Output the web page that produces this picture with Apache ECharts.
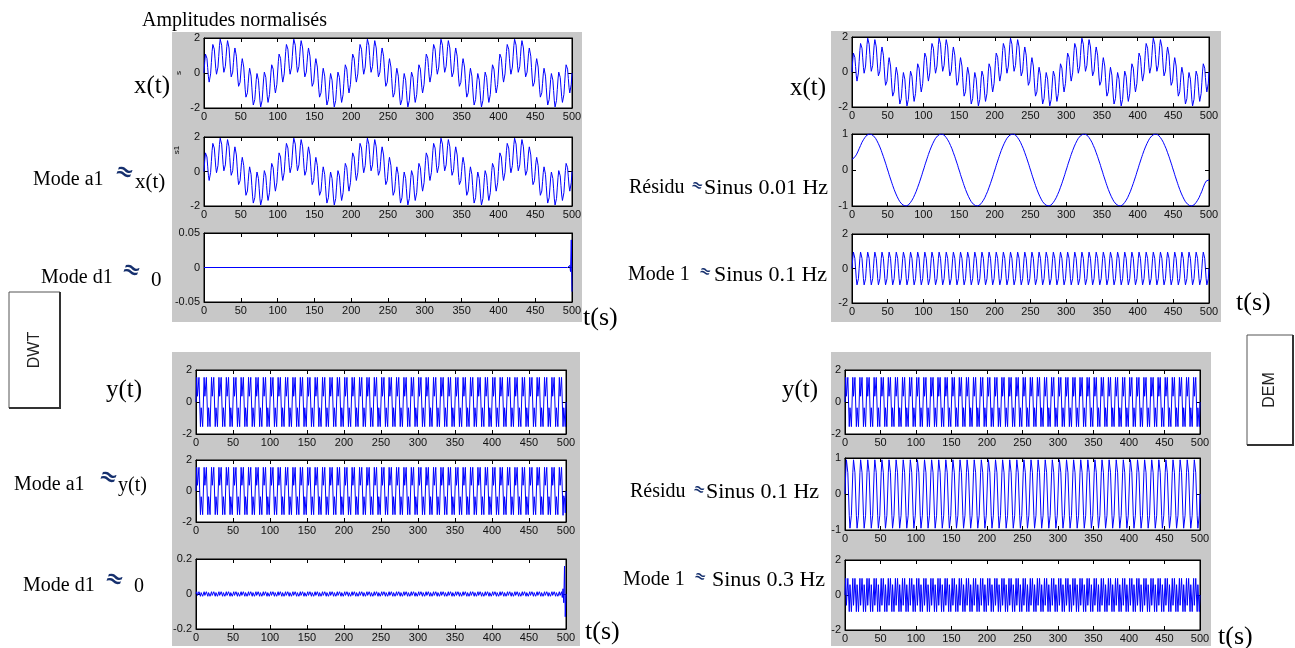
<!DOCTYPE html>
<html>
<head>
<meta charset="utf-8">
<script src="https://cdn.jsdelivr.net/npm/echarts@6/dist/echarts.min.js"></script>
<style>
  html, body { margin: 0; padding: 0; background: #fff; }
  #chart { width: 1295px; height: 648px; }
</style>
</head>
<body>
<div id="chart"></div>
<script>
// ---- data -------------------------------------------------------------
// Sample instants, one per second over 0..500 s
const timeStart = 0;
const timeEnd = 500;
const timeTicks = ['0', '50', '100', '150', '200', '250', '300', '350', '400', '450', '500'];

// Slow sine component, 0.01 Hz (one sample per second)
const sinus001Hz = [
  0,.06,.13,.19,.25,.31,.37,.43,.48,.54,.59,.64,.68,.73,.77,.81,.84,.88,.9,.93,.95,.97,.98,.99,1,1,1,.99,.98,.97,.95,.93,.9,.88,.84,.81,.77,.73,.68,.64,.59,.54,.48,.43,.37,.31,.25,.19,.13,.06,0,-.06,-.13,-.19,-.25,-.31,-.37,-.43,-.48,-.54,-.59,-.64,-.68,-.73,-.77,-.81,-.84,-.88,-.9,-.93,-.95,-.97,-.98,-.99,-1,-1,-1,-.99,-.98,-.97,-.95,-.93,-.9,-.88,-.84,-.81,-.77,-.73,-.68,-.64,-.59,-.54,-.48,-.43,-.37,-.31,-.25,-.19,-.13,-.06,
  0,.06,.13,.19,.25,.31,.37,.43,.48,.54,.59,.64,.68,.73,.77,.81,.84,.88,.9,.93,.95,.97,.98,.99,1,1,1,.99,.98,.97,.95,.93,.9,.88,.84,.81,.77,.73,.68,.64,.59,.54,.48,.43,.37,.31,.25,.19,.13,.06,0,-.06,-.13,-.19,-.25,-.31,-.37,-.43,-.48,-.54,-.59,-.64,-.68,-.73,-.77,-.81,-.84,-.88,-.9,-.93,-.95,-.97,-.98,-.99,-1,-1,-1,-.99,-.98,-.97,-.95,-.93,-.9,-.88,-.84,-.81,-.77,-.73,-.68,-.64,-.59,-.54,-.48,-.43,-.37,-.31,-.25,-.19,-.13,-.06,
  0,.06,.13,.19,.25,.31,.37,.43,.48,.54,.59,.64,.68,.73,.77,.81,.84,.88,.9,.93,.95,.97,.98,.99,1,1,1,.99,.98,.97,.95,.93,.9,.88,.84,.81,.77,.73,.68,.64,.59,.54,.48,.43,.37,.31,.25,.19,.13,.06,0,-.06,-.13,-.19,-.25,-.31,-.37,-.43,-.48,-.54,-.59,-.64,-.68,-.73,-.77,-.81,-.84,-.88,-.9,-.93,-.95,-.97,-.98,-.99,-1,-1,-1,-.99,-.98,-.97,-.95,-.93,-.9,-.88,-.84,-.81,-.77,-.73,-.68,-.64,-.59,-.54,-.48,-.43,-.37,-.31,-.25,-.19,-.13,-.06,
  0,.06,.13,.19,.25,.31,.37,.43,.48,.54,.59,.64,.68,.73,.77,.81,.84,.88,.9,.93,.95,.97,.98,.99,1,1,1,.99,.98,.97,.95,.93,.9,.88,.84,.81,.77,.73,.68,.64,.59,.54,.48,.43,.37,.31,.25,.19,.13,.06,0,-.06,-.13,-.19,-.25,-.31,-.37,-.43,-.48,-.54,-.59,-.64,-.68,-.73,-.77,-.81,-.84,-.88,-.9,-.93,-.95,-.97,-.98,-.99,-1,-1,-1,-.99,-.98,-.97,-.95,-.93,-.9,-.88,-.84,-.81,-.77,-.73,-.68,-.64,-.59,-.54,-.48,-.43,-.37,-.31,-.25,-.19,-.13,-.06,
  0,.06,.13,.19,.25,.31,.37,.43,.48,.54,.59,.64,.68,.73,.77,.81,.84,.88,.9,.93,.95,.97,.98,.99,1,1,1,.99,.98,.97,.95,.93,.9,.88,.84,.81,.77,.73,.68,.64,.59,.54,.48,.43,.37,.31,.25,.19,.13,.06,0,-.06,-.13,-.19,-.25,-.31,-.37,-.43,-.48,-.54,-.59,-.64,-.68,-.73,-.77,-.81,-.84,-.88,-.9,-.93,-.95,-.97,-.98,-.99,-1,-1,-1,-.99,-.98,-.97,-.95,-.93,-.9,-.88,-.84,-.81,-.77,-.73,-.68,-.64,-.59,-.54,-.48,-.43,-.37,-.31,-.25,-.19,-.13,-.06,
  0
];

// 0.1 Hz sine component
const sinus01Hz = [
  0,.59,.95,.95,.59,0,-.59,-.95,-.95,-.59, 0,.59,.95,.95,.59,0,-.59,-.95,-.95,-.59, 0,.59,.95,.95,.59,0,-.59,-.95,-.95,-.59, 0,.59,.95,.95,.59,0,-.59,-.95,-.95,-.59, 0,.59,.95,.95,.59,0,-.59,-.95,-.95,-.59, 0,.59,.95,.95,.59,0,-.59,-.95,-.95,-.59, 0,.59,.95,.95,.59,0,-.59,-.95,-.95,-.59, 0,.59,.95,.95,.59,0,-.59,-.95,-.95,-.59, 0,.59,.95,.95,.59,0,-.59,-.95,-.95,-.59, 0,.59,.95,.95,.59,0,-.59,-.95,-.95,-.59,
  0,.59,.95,.95,.59,0,-.59,-.95,-.95,-.59, 0,.59,.95,.95,.59,0,-.59,-.95,-.95,-.59, 0,.59,.95,.95,.59,0,-.59,-.95,-.95,-.59, 0,.59,.95,.95,.59,0,-.59,-.95,-.95,-.59, 0,.59,.95,.95,.59,0,-.59,-.95,-.95,-.59, 0,.59,.95,.95,.59,0,-.59,-.95,-.95,-.59, 0,.59,.95,.95,.59,0,-.59,-.95,-.95,-.59, 0,.59,.95,.95,.59,0,-.59,-.95,-.95,-.59, 0,.59,.95,.95,.59,0,-.59,-.95,-.95,-.59, 0,.59,.95,.95,.59,0,-.59,-.95,-.95,-.59,
  0,.59,.95,.95,.59,0,-.59,-.95,-.95,-.59, 0,.59,.95,.95,.59,0,-.59,-.95,-.95,-.59, 0,.59,.95,.95,.59,0,-.59,-.95,-.95,-.59, 0,.59,.95,.95,.59,0,-.59,-.95,-.95,-.59, 0,.59,.95,.95,.59,0,-.59,-.95,-.95,-.59, 0,.59,.95,.95,.59,0,-.59,-.95,-.95,-.59, 0,.59,.95,.95,.59,0,-.59,-.95,-.95,-.59, 0,.59,.95,.95,.59,0,-.59,-.95,-.95,-.59, 0,.59,.95,.95,.59,0,-.59,-.95,-.95,-.59, 0,.59,.95,.95,.59,0,-.59,-.95,-.95,-.59,
  0,.59,.95,.95,.59,0,-.59,-.95,-.95,-.59, 0,.59,.95,.95,.59,0,-.59,-.95,-.95,-.59, 0,.59,.95,.95,.59,0,-.59,-.95,-.95,-.59, 0,.59,.95,.95,.59,0,-.59,-.95,-.95,-.59, 0,.59,.95,.95,.59,0,-.59,-.95,-.95,-.59, 0,.59,.95,.95,.59,0,-.59,-.95,-.95,-.59, 0,.59,.95,.95,.59,0,-.59,-.95,-.95,-.59, 0,.59,.95,.95,.59,0,-.59,-.95,-.95,-.59, 0,.59,.95,.95,.59,0,-.59,-.95,-.95,-.59, 0,.59,.95,.95,.59,0,-.59,-.95,-.95,-.59,
  0,.59,.95,.95,.59,0,-.59,-.95,-.95,-.59, 0,.59,.95,.95,.59,0,-.59,-.95,-.95,-.59, 0,.59,.95,.95,.59,0,-.59,-.95,-.95,-.59, 0,.59,.95,.95,.59,0,-.59,-.95,-.95,-.59, 0,.59,.95,.95,.59,0,-.59,-.95,-.95,-.59, 0,.59,.95,.95,.59,0,-.59,-.95,-.95,-.59, 0,.59,.95,.95,.59,0,-.59,-.95,-.95,-.59, 0,.59,.95,.95,.59,0,-.59,-.95,-.95,-.59, 0,.59,.95,.95,.59,0,-.59,-.95,-.95,-.59, 0,.59,.95,.95,.59,0,-.59,-.95,-.95,-.59,
  0
];

// 0.3 Hz sine component
const sinus03Hz = [
  0,.95,-.59,-.59,.95,0,-.95,.59,.59,-.95, 0,.95,-.59,-.59,.95,0,-.95,.59,.59,-.95, 0,.95,-.59,-.59,.95,0,-.95,.59,.59,-.95, 0,.95,-.59,-.59,.95,0,-.95,.59,.59,-.95, 0,.95,-.59,-.59,.95,0,-.95,.59,.59,-.95, 0,.95,-.59,-.59,.95,0,-.95,.59,.59,-.95, 0,.95,-.59,-.59,.95,0,-.95,.59,.59,-.95, 0,.95,-.59,-.59,.95,0,-.95,.59,.59,-.95, 0,.95,-.59,-.59,.95,0,-.95,.59,.59,-.95, 0,.95,-.59,-.59,.95,0,-.95,.59,.59,-.95,
  0,.95,-.59,-.59,.95,0,-.95,.59,.59,-.95, 0,.95,-.59,-.59,.95,0,-.95,.59,.59,-.95, 0,.95,-.59,-.59,.95,0,-.95,.59,.59,-.95, 0,.95,-.59,-.59,.95,0,-.95,.59,.59,-.95, 0,.95,-.59,-.59,.95,0,-.95,.59,.59,-.95, 0,.95,-.59,-.59,.95,0,-.95,.59,.59,-.95, 0,.95,-.59,-.59,.95,0,-.95,.59,.59,-.95, 0,.95,-.59,-.59,.95,0,-.95,.59,.59,-.95, 0,.95,-.59,-.59,.95,0,-.95,.59,.59,-.95, 0,.95,-.59,-.59,.95,0,-.95,.59,.59,-.95,
  0,.95,-.59,-.59,.95,0,-.95,.59,.59,-.95, 0,.95,-.59,-.59,.95,0,-.95,.59,.59,-.95, 0,.95,-.59,-.59,.95,0,-.95,.59,.59,-.95, 0,.95,-.59,-.59,.95,0,-.95,.59,.59,-.95, 0,.95,-.59,-.59,.95,0,-.95,.59,.59,-.95, 0,.95,-.59,-.59,.95,0,-.95,.59,.59,-.95, 0,.95,-.59,-.59,.95,0,-.95,.59,.59,-.95, 0,.95,-.59,-.59,.95,0,-.95,.59,.59,-.95, 0,.95,-.59,-.59,.95,0,-.95,.59,.59,-.95, 0,.95,-.59,-.59,.95,0,-.95,.59,.59,-.95,
  0,.95,-.59,-.59,.95,0,-.95,.59,.59,-.95, 0,.95,-.59,-.59,.95,0,-.95,.59,.59,-.95, 0,.95,-.59,-.59,.95,0,-.95,.59,.59,-.95, 0,.95,-.59,-.59,.95,0,-.95,.59,.59,-.95, 0,.95,-.59,-.59,.95,0,-.95,.59,.59,-.95, 0,.95,-.59,-.59,.95,0,-.95,.59,.59,-.95, 0,.95,-.59,-.59,.95,0,-.95,.59,.59,-.95, 0,.95,-.59,-.59,.95,0,-.95,.59,.59,-.95, 0,.95,-.59,-.59,.95,0,-.95,.59,.59,-.95, 0,.95,-.59,-.59,.95,0,-.95,.59,.59,-.95,
  0,.95,-.59,-.59,.95,0,-.95,.59,.59,-.95, 0,.95,-.59,-.59,.95,0,-.95,.59,.59,-.95, 0,.95,-.59,-.59,.95,0,-.95,.59,.59,-.95, 0,.95,-.59,-.59,.95,0,-.95,.59,.59,-.95, 0,.95,-.59,-.59,.95,0,-.95,.59,.59,-.95, 0,.95,-.59,-.59,.95,0,-.95,.59,.59,-.95, 0,.95,-.59,-.59,.95,0,-.95,.59,.59,-.95, 0,.95,-.59,-.59,.95,0,-.95,.59,.59,-.95, 0,.95,-.59,-.59,.95,0,-.95,.59,.59,-.95, 0,.95,-.59,-.59,.95,0,-.95,.59,.59,-.95,
  0
];

// Residue of x(t): slow sine with end effects at both borders
const residuHead = [.3,.31,.32,.34,.36,.39,.42,.46,.5,.54];            // t = 0..9
const residuTail = [-.48,-.43,-.38,-.34,-.31,-.29,-.28,-.28,-.29];      // t = 492..500

// DWT detail d1 of x(t): flat, with a border spike at the end  [t, value]
const detailD1x = [[0,0],[494,0],[495,.001],[496,-.002],[497,.003],[498,-.006],[499,.04],[500,-.035]];

// DWT detail d1 of y(t): small ripple, border spike at the end
const detailD1y = [
  0,.013,-.008,-.008,.013,0,-.013,.008,.008,-.013, 0,.013,-.008,-.008,.013,0,-.013,.008,.008,-.013, 0,.013,-.008,-.008,.013,0,-.013,.008,.008,-.013, 0,.013,-.008,-.008,.013,0,-.013,.008,.008,-.013, 0,.013,-.008,-.008,.013,0,-.013,.008,.008,-.013, 0,.013,-.008,-.008,.013,0,-.013,.008,.008,-.013, 0,.013,-.008,-.008,.013,0,-.013,.008,.008,-.013, 0,.013,-.008,-.008,.013,0,-.013,.008,.008,-.013, 0,.013,-.008,-.008,.013,0,-.013,.008,.008,-.013, 0,.013,-.008,-.008,.013,0,-.013,.008,.008,-.013,
  0,.013,-.008,-.008,.013,0,-.013,.008,.008,-.013, 0,.013,-.008,-.008,.013,0,-.013,.008,.008,-.013, 0,.013,-.008,-.008,.013,0,-.013,.008,.008,-.013, 0,.013,-.008,-.008,.013,0,-.013,.008,.008,-.013, 0,.013,-.008,-.008,.013,0,-.013,.008,.008,-.013, 0,.013,-.008,-.008,.013,0,-.013,.008,.008,-.013, 0,.013,-.008,-.008,.013,0,-.013,.008,.008,-.013, 0,.013,-.008,-.008,.013,0,-.013,.008,.008,-.013, 0,.013,-.008,-.008,.013,0,-.013,.008,.008,-.013, 0,.013,-.008,-.008,.013,0,-.013,.008,.008,-.013,
  0,.013,-.008,-.008,.013,0,-.013,.008,.008,-.013, 0,.013,-.008,-.008,.013,0,-.013,.008,.008,-.013, 0,.013,-.008,-.008,.013,0,-.013,.008,.008,-.013, 0,.013,-.008,-.008,.013,0,-.013,.008,.008,-.013, 0,.013,-.008,-.008,.013,0,-.013,.008,.008,-.013, 0,.013,-.008,-.008,.013,0,-.013,.008,.008,-.013, 0,.013,-.008,-.008,.013,0,-.013,.008,.008,-.013, 0,.013,-.008,-.008,.013,0,-.013,.008,.008,-.013, 0,.013,-.008,-.008,.013,0,-.013,.008,.008,-.013, 0,.013,-.008,-.008,.013,0,-.013,.008,.008,-.013,
  0,.013,-.008,-.008,.013,0,-.013,.008,.008,-.013, 0,.013,-.008,-.008,.013,0,-.013,.008,.008,-.013, 0,.013,-.008,-.008,.013,0,-.013,.008,.008,-.013, 0,.013,-.008,-.008,.013,0,-.013,.008,.008,-.013, 0,.013,-.008,-.008,.013,0,-.013,.008,.008,-.013, 0,.013,-.008,-.008,.013,0,-.013,.008,.008,-.013, 0,.013,-.008,-.008,.013,0,-.013,.008,.008,-.013, 0,.013,-.008,-.008,.013,0,-.013,.008,.008,-.013, 0,.013,-.008,-.008,.013,0,-.013,.008,.008,-.013, 0,.013,-.008,-.008,.013,0,-.013,.008,.008,-.013,
  0,.013,-.008,-.008,.013,0,-.013,.008,.008,-.013, 0,.013,-.008,-.008,.013,0,-.013,.008,.008,-.013, 0,.013,-.008,-.008,.013,0,-.013,.008,.008,-.013, 0,.013,-.008,-.008,.013,0,-.013,.008,.008,-.013, 0,.013,-.008,-.008,.013,0,-.013,.008,.008,-.013, 0,.013,-.008,-.008,.013,0,-.013,.008,.008,-.013, 0,.013,-.008,-.008,.013,0,-.013,.008,.008,-.013, 0,.013,-.008,-.008,.013,0,-.013,.008,.008,-.013, 0,.013,-.008,-.008,.013,0,-.013,.008,.008,-.013, 0,.013,-.008,-.008,.013,-.02,.03,-.05,.16,-.13,
  0
];

// ---- derived signals --------------------------------------------------
const nSamples = sinus001Hz.length;
const tSec = Array.from({ length: nSamples }, (_, i) => timeStart + i);

const xSignal = sinus001Hz.map((v, i) => +(v + sinus01Hz[i]).toFixed(3));
const ySignal = sinus01Hz.map((v, i) => +(v + sinus03Hz[i]).toFixed(3));
const approxA1y = ySignal.map((v, i) => +(v - detailD1y[i]).toFixed(3));
const residuSlow = sinus001Hz.map((v, i) => {
  if (i < residuHead.length) return residuHead[i];
  const k = i - (nSamples - residuTail.length);
  return k >= 0 ? residuTail[k] : v;
});

const pairs = arr => arr.map((v, i) => [tSec[i], v]);

// ---- layout: one entry per sub-plot ---------------------------------
const panels = [
  // DWT, x(t)
  { left: 204, top: 38,  width: 368, height: 70, y: [-2, 2, 2],          data: pairs(xSignal) },
  { left: 204, top: 137, width: 368, height: 69, y: [-2, 2, 2],          data: pairs(xSignal) },
  { left: 204, top: 233, width: 368, height: 69, y: [-0.05, 0.05, 0.05], data: detailD1x },
  // DWT, y(t)
  { left: 196, top: 370, width: 370, height: 64, y: [-2, 2, 2],          data: pairs(ySignal) },
  { left: 196, top: 460, width: 370, height: 62, y: [-2, 2, 2],          data: pairs(approxA1y) },
  { left: 196, top: 559, width: 370, height: 70, y: [-0.2, 0.2, 0.2],    data: pairs(detailD1y) },
  // EMD, x(t)
  { left: 852, top: 37,  width: 357, height: 70, y: [-2, 2, 2],          data: pairs(xSignal) },
  { left: 852, top: 134, width: 357, height: 72, y: [-1, 1, 1],          data: pairs(residuSlow) },
  { left: 852, top: 234, width: 357, height: 69, y: [-2, 2, 2],          data: pairs(sinus01Hz) },
  // EMD, y(t)
  { left: 845, top: 370, width: 355, height: 64, y: [-2, 2, 2],          data: pairs(ySignal) },
  { left: 845, top: 458, width: 355, height: 72, y: [-1, 1, 1],          data: pairs(sinus01Hz) },
  { left: 845, top: 560, width: 355, height: 70, y: [-2, 2, 2],          data: pairs(sinus03Hz) }
];

const tickFont = { color: '#111', fontSize: 11, fontFamily: '"Liberation Sans", Arial, sans-serif' };
const grids = [], xAxes = [], yAxes = [], series = [];

panels.forEach((p, i) => {
  grids.push({
    left: p.left, top: p.top, width: p.width, height: p.height,
    show: true, backgroundColor: '#fff', borderColor: '#000', borderWidth: 1
  });
  const common = {
    gridIndex: i, type: 'value',
    axisLine: { show: true, onZero: false, lineStyle: { color: '#000', width: 1 } },
    axisTick: { show: true, inside: true, length: 4, lineStyle: { color: '#000', width: 1 } },
    splitLine: { show: false }
  };
  const xRange = { min: timeStart, max: timeEnd, interval: 50 };
  xAxes.push(Object.assign({}, common, xRange, {
    position: 'bottom',
    axisLabel: Object.assign({ show: true, margin: 3, formatter: v => timeTicks[Math.round(v / 50)] }, tickFont)
  }));
  xAxes.push(Object.assign({}, common, xRange, { position: 'top', axisLabel: { show: false } }));
  const yRange = { min: p.y[0], max: p.y[1], interval: p.y[2] };
  yAxes.push(Object.assign({}, common, yRange, {
    position: 'left',
    axisLabel: Object.assign({ show: true, margin: 4 }, tickFont)
  }));
  yAxes.push(Object.assign({}, common, yRange, { position: 'right', axisLabel: { show: false } }));
  series.push({
    type: 'line', xAxisIndex: 2 * i, yAxisIndex: 2 * i,
    data: p.data, showSymbol: false, symbol: 'none', silent: true,
    lineStyle: { color: '#0000ff', width: 1 }, animation: false
  });
});

// ---- annotations ------------------------------------------------------
const SERIF = '"Liberation Serif", "Times New Roman", serif';
function txt(text, x, y, size, o) {
  o = o || {};
  const el = {
    type: 'text', x: x, y: y, silent: true, z: 20,
    style: {
      text: text,
      font: (o.weight || 'normal') + ' ' + size + 'px ' + (o.family || SERIF),
      fill: o.fill || '#000',
      textAlign: o.align || 'left', textVerticalAlign: 'middle'
    }
  };
  if (o.rot) el.rotation = o.rot;
  return el;
}
const ICON = { fill: '#16306e', weight: 'bold', family: '"DejaVu Sans", sans-serif', align: 'center', rot: -0.35 };

function grayBox(x, y, w, h) {
  return { type: 'rect', z: -50, silent: true, shape: { x: x, y: y, width: w, height: h }, style: { fill: '#c8c8c8' } };
}
function button(x, y, w, h, label) {
  return [
    { type: 'rect', z: 5, silent: true, shape: { x: x, y: y, width: w, height: h }, style: { fill: '#fff', stroke: '#555', lineWidth: 1 } },
    { type: 'polyline', z: 6, silent: true, shape: { points: [[x + w, y], [x + w, y + h], [x, y + h]] }, style: { stroke: '#333', lineWidth: 2, fill: null } },
    txt(label, x + w / 2, y + h / 2, 16, { family: '"Liberation Sans", Arial, sans-serif', fill: '#222', align: 'center', rot: Math.PI / 2 })
  ];
}

const graphics = [
  grayBox(172, 32, 410, 290),
  grayBox(172, 352, 408, 294),
  grayBox(831, 31, 390, 291),
  grayBox(831, 352, 380, 294),

  txt('Amplitudes normalisés', 142, 21, 20),

  // DWT, x(t)
  txt('x(t)', 170, 86, 25, { align: 'right' }),
  txt('s', 179, 73, 8, { family: 'Arial, sans-serif', rot: Math.PI / 2, align: 'center' }),
  txt('s1', 177, 150, 8, { family: 'Arial, sans-serif', rot: Math.PI / 2, align: 'center' }),
  txt('Mode a1', 33, 180, 20),
  txt('≈', 124, 173, 22, ICON),
  txt('x(t)', 135, 182, 21),
  txt('Mode d1', 41, 278, 20),
  txt('≈', 131, 271, 22, ICON),
  txt('0', 151, 280, 21),
  txt('t(s)', 583, 318, 26),

  // DWT, y(t)
  txt('y(t)', 142, 390, 25, { align: 'right' }),
  txt('Mode a1', 14, 485, 20),
  txt('≈', 108, 478, 22, ICON),
  txt('y(t)', 118, 486, 20),
  txt('Mode d1', 23, 586, 20),
  txt('≈', 114, 580, 22, ICON),
  txt('0', 134, 587, 20),
  txt('t(s)', 585, 632, 26),

  // EMD, x(t)
  txt('x(t)', 826, 88, 25, { align: 'right' }),
  txt('Résidu', 629, 188, 20),
  txt('≈', 697, 186, 14, ICON),
  txt('Sinus 0.01 Hz', 704, 188, 22),
  txt('Mode 1', 628, 275, 20),
  txt('≈', 705, 272, 14, ICON),
  txt('Sinus 0.1 Hz', 714, 275, 22),
  txt('t(s)', 1236, 303, 26),

  // EMD, y(t)
  txt('y(t)', 818, 390, 25, { align: 'right' }),
  txt('Résidu', 630, 492, 20),
  txt('≈', 699, 490, 14, ICON),
  txt('Sinus 0.1 Hz', 706, 492, 22),
  txt('Mode 1', 623, 580, 20),
  txt('≈', 700, 577, 14, ICON),
  txt('Sinus 0.3 Hz', 712, 580, 22),
  txt('t(s)', 1218, 637, 26)
].concat(button(9, 292, 51, 116, 'DWT'), button(1247, 335, 46, 110, 'DEM'));

const chart = echarts.init(document.getElementById('chart'), null, { renderer: 'canvas' });
chart.setOption({
  animation: false,
  backgroundColor: '#fff',
  grid: grids,
  xAxis: xAxes,
  yAxis: yAxes,
  series: series,
  graphic: { elements: graphics }
});
</script>
</body>
</html>
